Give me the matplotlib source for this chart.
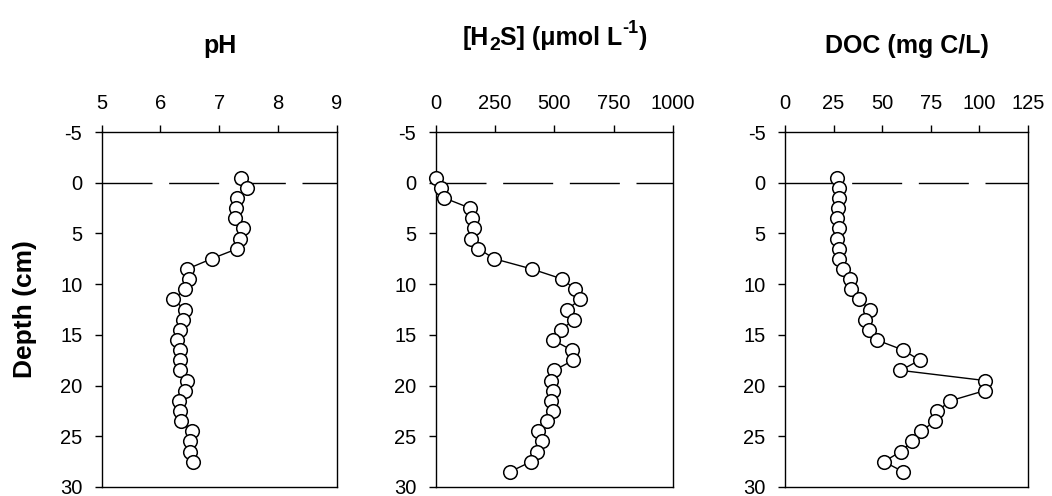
import matplotlib
matplotlib.use("Agg")
import matplotlib.pyplot as plt
from matplotlib.transforms import Affine2D

plt.rcParams['font.family'] = ['Liberation Sans', 'DejaVu Sans']
plt.rcParams['axes.unicode_minus'] = False

# ---- data ----
depth_ph = [-0.5, 0.5, 1.5, 2.5, 3.5, 4.5, 5.5, 6.5, 7.5, 8.5, 9.5, 10.5, 11.5, 12.5,
            13.5, 14.5, 15.5, 16.5, 17.5, 18.5, 19.5, 20.5, 21.5, 22.5, 23.5, 24.5,
            25.5, 26.5, 27.5]
ph = [7.37, 7.48, 7.30, 7.28, 7.27, 7.41, 7.35, 7.31, 6.87, 6.46, 6.49, 6.42, 6.22, 6.41,
      6.39, 6.34, 6.29, 6.34, 6.33, 6.33, 6.46, 6.42, 6.32, 6.33, 6.35, 6.53,
      6.51, 6.51, 6.56]

depth_h2s = [-0.5, 0.5, 1.5, 2.5, 3.5, 4.5, 5.5, 6.5, 7.5, 8.5, 9.5, 10.5, 11.5, 12.5,
             13.5, 14.5, 15.5, 16.5, 17.5, 18.5, 19.5, 20.5, 21.5, 22.5, 23.5, 24.5,
             25.5, 26.5, 27.5, 28.5]
h2s = [0, 21, 36, 144, 151, 161, 149, 180, 247, 404, 534, 587, 608, 555,
       584, 527, 493, 573, 580, 499, 485, 496, 485, 496, 468, 430,
       447, 426, 402, 313]

depth_doc = [-0.5, 0.5, 1.5, 2.5, 3.5, 4.5, 5.5, 6.5, 7.5, 8.5, 9.5, 10.5, 11.5, 12.5,
             13.5, 14.5, 15.5, 16.5, 17.5, 18.5, 19.5, 20.5, 21.5, 22.5, 23.5, 24.5,
             25.5, 26.5, 27.5, 28.5]
doc = [26.5, 27.7, 27.9, 27.4, 27.0, 27.9, 27.0, 27.9, 27.7, 29.6, 33.4, 33.9, 38.0, 43.7,
       41.4, 43.3, 47.1, 60.8, 69.3, 59.4, 102.7, 102.7, 85.1, 78.4, 77.0, 70.2,
       65.4, 59.6, 50.9, 60.8]

# title pieces: (text, fontsize, baseline shift in px; +down)
title_ph = [('pH', 18, 0)]
title_h2s = [('[H', 18, 0), ('2', 14, 5), ('S] (\u03bcmol L', 18, 0), ('-1', 13, -12), (')', 18, 0)]
title_doc = [('DOC (mg C/L)', 18, 0)]
titles = [title_ph, title_h2s, title_doc]

xlims = [(5, 9), (0, 1000), (0, 125)]
xticks = [[5, 6, 7, 8, 9], [0, 250, 500, 750, 1000], [0, 25, 50, 75, 100, 125]]
yticks = [-5, 0, 5, 10, 15, 20, 25, 30]
ylabel = 'Depth (cm)'

W, H = 1052, 496
fig = plt.figure(figsize=(W / 100, H / 100), dpi=100)
renderer = fig.canvas.get_renderer()

panels_px = [(101.7, 336.7), (435.7, 673.0), (785.0, 1028.0)]
top_px, bot_px = 132.0, 487.0
title_x_px = [220, 555, 907]
title_base_px = [53, 45, 53]

series = [(ph, depth_ph), (h2s, depth_h2s), (doc, depth_doc)]


def draw_title(pieces, xc, base):
    # measure widths
    widths = []
    for txt, fs, _ in pieces:
        t = fig.text(0, 0, txt, fontsize=fs, fontweight='bold')
        widths.append(t.get_window_extent(renderer).width)
        t.remove()
    total = sum(widths)
    x = xc - total / 2
    for (txt, fs, dy), w in zip(pieces, widths):
        fig.text(x / W, 1 - (base + dy) / H, txt, fontsize=fs, fontweight='bold',
                 ha='left', va='baseline')
        x += w


for i, ((xv, yv), (l, r)) in enumerate(zip(series, panels_px)):
    ax = fig.add_axes([l / W, 1 - bot_px / H, (r - l) / W, (bot_px - top_px) / H])
    ax.plot(xlims[i], [0, 0], color='black', lw=1.0, dashes=(36, 12),
            clip_on=False, zorder=1)
    ax.plot(xv, yv, color='black', lw=1.0, marker='o', markersize=9.8,
            markerfacecolor='white', markeredgecolor='black', markeredgewidth=1.1,
            zorder=3, clip_on=False)
    ax.set_xlim(*xlims[i])
    ax.set_ylim(30, -5)
    ax.set_xticks(xticks[i])
    ax.set_yticks(yticks)
    ax.xaxis.tick_top()
    ax.tick_params(axis='both', direction='out', length=5, width=1.0,
                   labelsize=14.5, pad=9, colors='black')
    for s in ax.spines.values():
        s.set_linewidth(1.0)
    draw_title(titles[i], title_x_px[i], title_base_px[i])

fig.text(25 / W, 1 - 309 / H, ylabel, rotation=90, ha='center', va='center',
         fontsize=19, fontweight='bold')

fig.savefig('out.png', dpi=100)
